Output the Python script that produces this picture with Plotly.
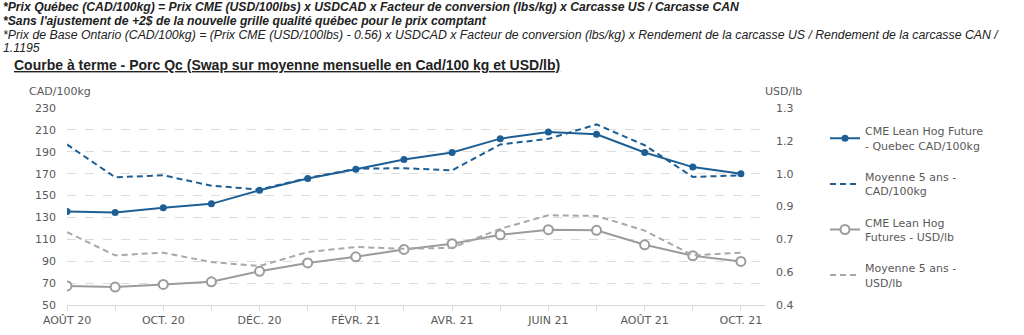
import plotly.graph_objects as go

months = ["AOÛT 20", "SEPT. 20", "OCT. 20", "NOV. 20", "DÉC. 20", "JANV. 21", "FÉVR. 21",
          "MARS 21", "AVR. 21", "MAI 21", "JUIN 21", "JUIL. 21", "AOÛT 21", "SEPT. 21", "OCT. 21"]
cme_quebec_cad = [135.5, 134.5, 138.8, 142.4, 154.8, 165.5, 174, 183, 189.4, 202, 208, 206, 189.4, 176, 170]
moy5_cad = [196.7, 166.7, 168.5, 159, 155.5, 166, 174.5, 175, 173, 196.7, 201.8, 215, 196, 167, 168.5]
cme_usd_lb = [0.487, 0.482, 0.494, 0.506, 0.554, 0.592, 0.620, 0.654, 0.680, 0.721, 0.744, 0.741, 0.675, 0.625, 0.599]
moy5_usd_lb = [0.733, 0.627, 0.639, 0.596, 0.578, 0.642, 0.665, 0.657, 0.661, 0.748, 0.810, 0.807, 0.740, 0.627, 0.639]

left_ticks = [50, 70, 90, 110, 130, 150, 170, 190, 210, 230]
right_ticks = [0.4, 0.55, 0.7, 0.85, 1.0, 1.15, 1.3]
right_ticktext = ["0.4", "0.6", "0.7", "0.9", "1.0", "1.2", "1.3"]

names = ["CME Lean Hog Future<br>- Quebec CAD/100kg", "Moyenne 5 ans -<br>CAD/100kg",
         "CME Lean Hog<br>Futures - USD/lb", "Moyenne 5 ans -<br>USD/lb"]

BLUE = "#1D5F94"
GRAY = "#9B9B9B"
GRAY_D = "#A8A8A8"
CHART_FONT = "DejaVu Sans"

x = list(range(len(months)))

fig = go.Figure()
fig.add_trace(go.Scatter(x=x, y=cme_quebec_cad, name=names[0], legendgroup="a",
                         mode="lines+markers", line=dict(color=BLUE, width=2),
                         marker=dict(color=BLUE, size=7, symbol="circle")))
fig.add_trace(go.Scatter(x=x, y=moy5_cad, name=names[1], legendgroup="b",
                         mode="lines", line=dict(color=BLUE, width=2, dash="6px,4px")))
fig.add_trace(go.Scatter(x=x, y=cme_usd_lb, name=names[2], legendgroup="c", yaxis="y2",
                         mode="lines+markers", line=dict(color=GRAY, width=2),
                         marker=dict(color="white", size=9, symbol="circle",
                                     line=dict(color=GRAY, width=2))))
fig.add_trace(go.Scatter(x=x, y=moy5_usd_lb, name=names[3], legendgroup="d", yaxis="y2",
                         mode="lines", line=dict(color=GRAY_D, width=2, dash="6px,4px")))

ticktext = [m if i % 2 == 0 else "" for i, m in enumerate(months)]

T, B, L, R = 108, 305, 67, 765
H = B - T
W = R - L

fig.update_layout(
    width=1024, height=335,
    margin=dict(l=L, r=1024 - R, t=T, b=335 - B, autoexpand=False),
    paper_bgcolor="white", plot_bgcolor="white",
    font=dict(family=CHART_FONT, size=11, color="#595959"),
    showlegend=True,
    legend=dict(x=(825 - L) / W, y=1 - (117.5 - T) / H, xanchor="left", yanchor="top",
                font=dict(family=CHART_FONT, size=11, color="#595959"),
                tracegroupgap=14, itemwidth=30, bgcolor="rgba(0,0,0,0)"),
    xaxis=dict(range=[0, 14.5], tickvals=x, ticktext=ticktext, tickangle=0, automargin=False,
               showgrid=False, zeroline=False, showline=True, linecolor="#D9D9D9", linewidth=1,
               ticks="outside", ticklen=5, tickcolor="#D9D9D9",
               tickfont=dict(family=CHART_FONT, size=11, color="#595959")),
    yaxis=dict(range=[50, 230], tickvals=left_ticks, showgrid=True, gridcolor="#DCDCDC",
               griddash="dash", gridwidth=1, zeroline=False, showline=False, automargin=False,
               ticklabelstandoff=10,
               tickfont=dict(family=CHART_FONT, size=11, color="#595959")),
    yaxis2=dict(range=[0.4, 1.3], tickvals=right_ticks, ticktext=right_ticktext, automargin=False,
                overlaying="y", side="right", showgrid=False, zeroline=False, showline=False,
                ticklabelstandoff=10,
                tickfont=dict(family=CHART_FONT, size=11, color="#595959")),
)

TXT = "Liberation Sans"
ann = [
    dict(text="<b><i>*Prix Québec (CAD/100kg) = Prix CME (USD/100lbs) x USDCAD x Facteur de conversion (lbs/kg) x Carcasse US / Carcasse CAN</i></b>",
         y=7, size=12.2),
    dict(text="<b><i>*Sans l'ajustement de +2$ de la nouvelle grille qualité québec pour le prix comptant</i></b>",
         y=21, size=12.2),
    dict(text="<i>*Prix de Base Ontario (CAD/100kg) = (Prix CME (USD/100lbs) - 0.56) x USDCAD x Facteur de conversion (lbs/kg) x Rendement de la carcasse US / Rendement de la carcasse CAN /</i>",
         y=35, size=12.3),
    dict(text="<i>1.1195</i>", y=48, size=12.3),
]
for a in ann:
    fig.add_annotation(text=a["text"], xref="paper", yref="paper",
                       x=(1 - L) / W, y=1 + (T - a["y"]) / H,
                       xanchor="left", yanchor="middle", showarrow=False,
                       font=dict(family=TXT, size=a["size"], color="#222222"))

fig.add_annotation(text="<b><u>Courbe à terme - Porc Qc (Swap sur moyenne mensuelle en Cad/100 kg et USD/lb)</u></b>",
                   xref="paper", yref="paper", x=(12 - L) / W, y=1 + (T - 65) / H,
                   xanchor="left", yanchor="middle", showarrow=False,
                   font=dict(family=TXT, size=14, color="#222222"))

fig.add_annotation(text="CAD/100kg", xref="paper", yref="paper", x=(27 - L) / W,
                   y=1 + (T - 91) / H, xanchor="left", yanchor="middle", showarrow=False,
                   font=dict(family=CHART_FONT, size=11, color="#595959"))
fig.add_annotation(text="USD/lb", xref="paper", yref="paper", x=(763 - L) / W,
                   y=1 + (T - 91) / H, xanchor="left", yanchor="middle", showarrow=False,
                   font=dict(family=CHART_FONT, size=11, color="#595959"))

fig.write_html("out.html")
